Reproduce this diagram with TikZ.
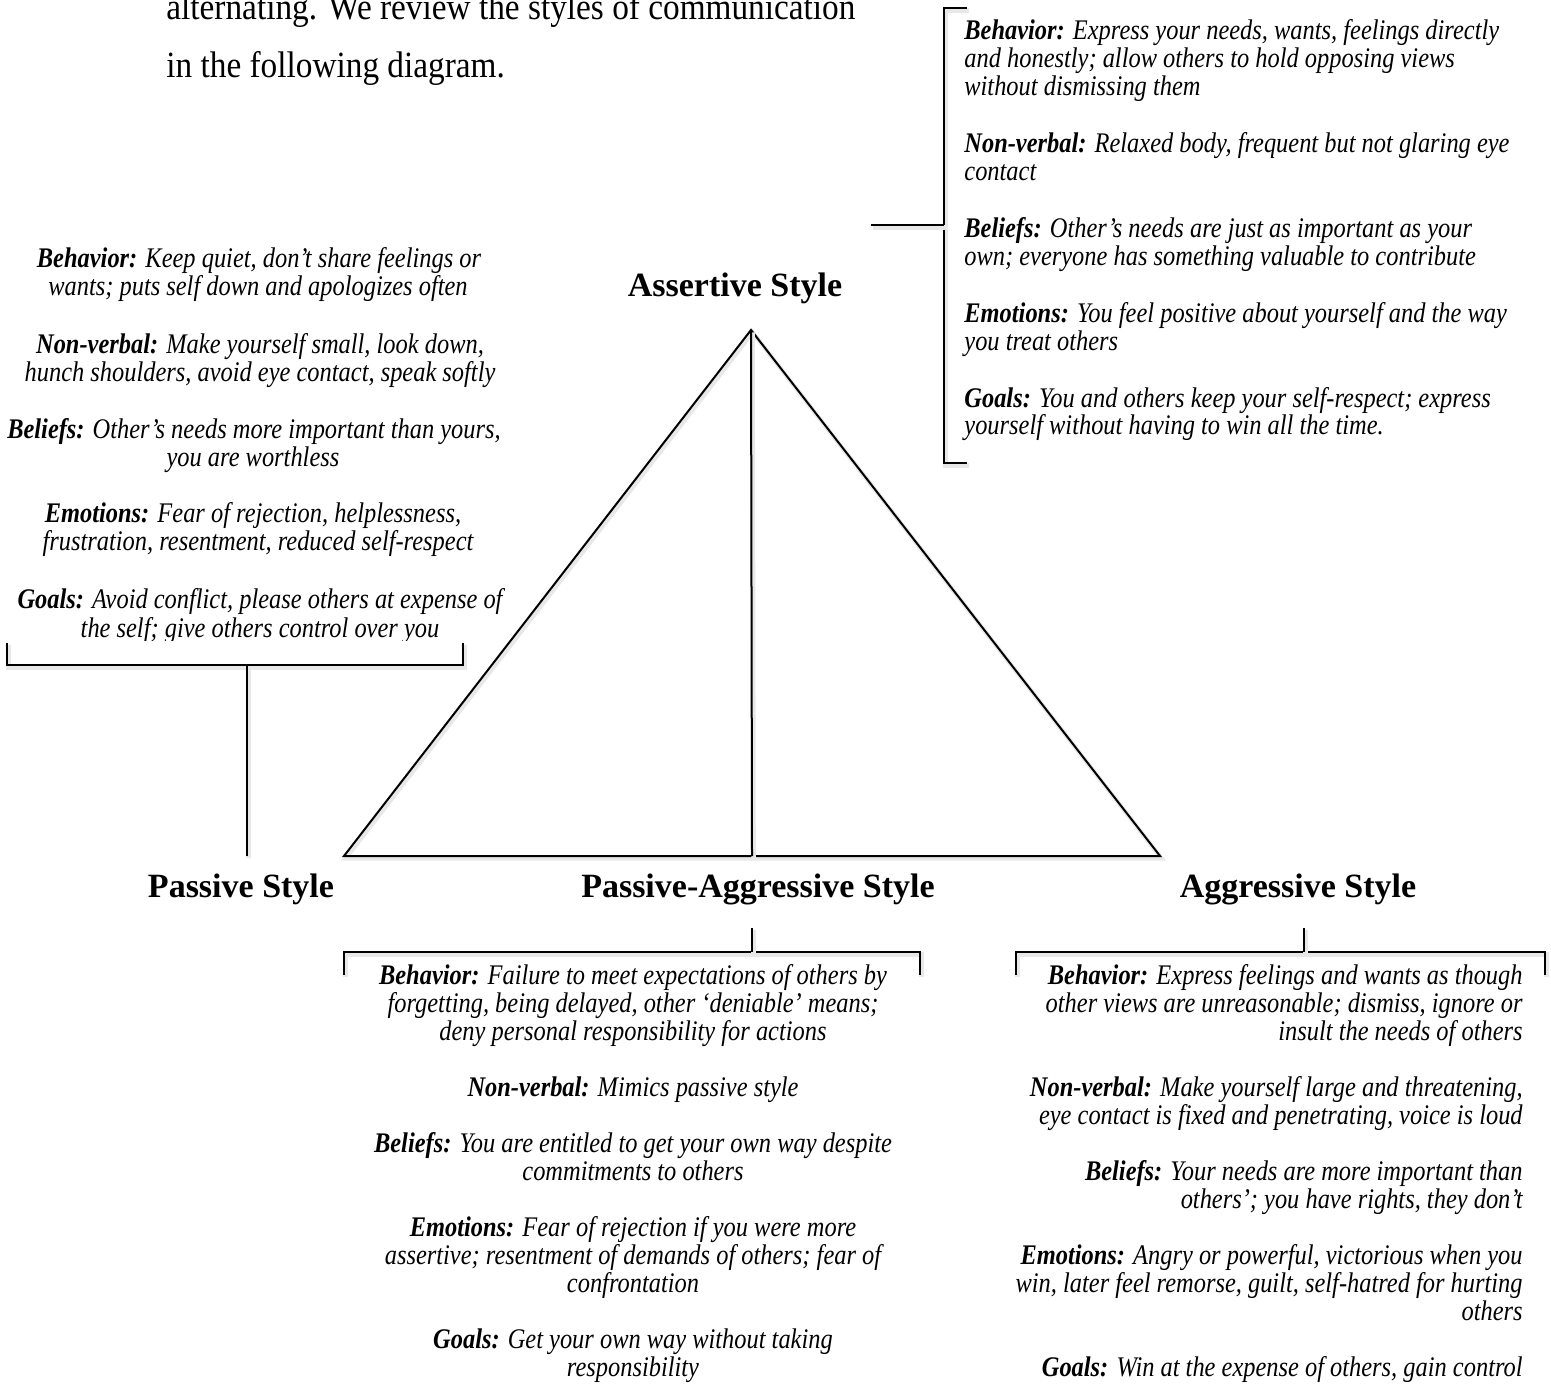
\documentclass[tikz,border=0pt]{standalone}
\usepackage{fontspec}
\setmainfont{Liberation Serif}
\newfontfamily\bodyfont{Liberation Serif}[FakeStretch=0.86]
\newfontfamily\introfont{Liberation Serif}[FakeStretch=0.9]
\newcommand\lab[1]{\textbf{#1}}
\begin{document}
\begin{tikzpicture}[x=0.5pt,y=-0.5pt,
  shadowed/.style={preaction={draw=black!9, line width=2.2pt, transform canvas={shift={(0.8pt,-1.2pt)}}}},
  tri/.style={line width=1pt, line join=miter, shadowed},
  brk/.style={line width=1.4pt, shadowed},
  stem/.style={line width=1.1pt, shadowed},
  head/.style={font=\fontsize{17}{20}\selectfont\bfseries, anchor=base, inner sep=0},
  body/.style={font=\bodyfont\itshape\fontsize{14.2}{16}\selectfont, inner sep=0, anchor=base},
  bodyL/.style={body, anchor=base west},
  bodyR/.style={body, anchor=base east},
  toptext/.style={font=\introfont\fontsize{18.5}{22}\selectfont, inner sep=0, anchor=base west}]
\clip (0,0) rectangle (1551,1384);
\fill[white] (0,0) rectangle (1551,1384);

% introductory text (cut at top)
\node[toptext] (intro1) at (166,20) {alternating. We review the styles of communication};
\node[toptext] (intro2) at (166,78) {in the following diagram.};

% triangle
\coordinate (apex) at (751,330);
\coordinate (bl) at (344,856);
\coordinate (br) at (1160,856);
\coordinate (bm) at (752,856);
\draw[tri] (bl) -- (apex) -- (br) -- cycle;
\draw[tri] (apex) -- (bm);

% headings
\node[head] (hA) at (735,297) {Assertive Style};
\node[head] (hP) at (241,897) {Passive Style};
\node[head] (hPA) at (758,897) {Passive-Aggressive Style};
\node[head] (hAg) at (1298,897) {Aggressive Style};

% passive bracket
\coordinate (pbL) at (7,643);
\coordinate (pbLb) at (7,665);
\coordinate (pbRb) at (463,665);
\coordinate (pbR) at (463,643);
\coordinate (pbM) at (247,665);
\coordinate (pbS) at (247,856);
\draw[brk] (pbL) -- (pbLb) -- (pbRb) -- (pbR);
\draw[stem] (pbM) -- (pbS);

% assertive bracket
\coordinate (abT) at (967,8);
\coordinate (abTL) at (944,8);
\coordinate (abBL) at (944,463);
\coordinate (abB) at (967,463);
\coordinate (abM) at (944,225);
\coordinate (abS) at (871,225);
\draw[brk] (abT) -- (abTL) -- (abBL) -- (abB);
\draw[brk] (abS) -- (abM);

% passive-aggressive bracket
\coordinate (pgL) at (344,975);
\coordinate (pgLt) at (344,952);
\coordinate (pgRt) at (920,952);
\coordinate (pgR) at (920,975);
\coordinate (pgM) at (752,952);
\coordinate (pgS) at (752,928);
\draw[brk] (pgL) -- (pgLt) -- (pgRt) -- (pgR);
\draw[stem] (pgM) -- (pgS);

% aggressive bracket
\coordinate (agL) at (1016,975);
\coordinate (agLt) at (1016,952);
\coordinate (agRt) at (1545,952);
\coordinate (agR) at (1545,975);
\coordinate (agM) at (1304,952);
\coordinate (agS) at (1304,928);
\draw[brk] (agL) -- (agLt) -- (agRt) -- (agR);
\draw[stem] (agM) -- (agS);

% passive text
\foreach \xx/\yy/\txt [count=\i] in {
  259/268/{\lab{Behavior:} Keep quiet, don’t share feelings or},
  258/296/{wants; puts self down and apologizes often},
  260/354/{\lab{Non-verbal:} Make yourself small, look down,},
  260/382/{hunch shoulders, avoid eye contact, speak softly},
  254/439/{\lab{Beliefs:} Other’s needs more important than yours,},
  253/467/{you are worthless},
  253/523/{\lab{Emotions:} Fear of rejection, helplessness,},
  258/551/{frustration, resentment, reduced self-respect},
  260/609/{\lab{Goals:} Avoid conflict, please others at expense of}}
  {\node[body] (pa\i) at (\xx,\yy) {\txt};}
\begin{scope}
\clip (0,0) rectangle (1551,640);
\node[body] (pa10) at (260,637) {the self; give others control over you};
\end{scope}

% assertive text
\foreach \yy/\txt [count=\i] in {
  40/{\lab{Behavior:} Express your needs, wants, feelings directly},
  68/{and honestly; allow others to hold opposing views},
  96/{without dismissing them},
  153/{\lab{Non-verbal:} Relaxed body, frequent but not glaring eye},
  181/{contact},
  238/{\lab{Beliefs:} Other’s needs are just as important as your},
  266/{own; everyone has something valuable to contribute},
  323/{\lab{Emotions:} You feel positive about yourself and the way},
  351/{you treat others},
  408/{\lab{Goals:} You and others keep your self-respect; express},
  435/{yourself without having to win all the time.}}
  {\node[bodyL] (as\i) at (964,\yy) {\txt};}

% passive-aggressive text
\foreach \yy/\txt [count=\i] in {
  984/{\lab{Behavior:} Failure to meet expectations of others by},
  1012/{forgetting, being delayed, other ‘deniable’ means;},
  1040/{deny personal responsibility for actions},
  1096/{\lab{Non-verbal:} Mimics passive style},
  1152/{\lab{Beliefs:} You are entitled to get your own way despite},
  1180/{commitments to others},
  1236/{\lab{Emotions:} Fear of rejection if you were more},
  1264/{assertive; resentment of demands of others; fear of},
  1292/{confrontation},
  1348/{\lab{Goals:} Get your own way without taking},
  1376/{responsibility}}
  {\node[body] (pg\i) at (633,\yy) {\txt};}

% aggressive text
\foreach \yy/\txt [count=\i] in {
  984/{\lab{Behavior:} Express feelings and wants as though},
  1012/{other views are unreasonable; dismiss, ignore or},
  1040/{insult the needs of others},
  1096/{\lab{Non-verbal:} Make yourself large and threatening,},
  1124/{eye contact is fixed and penetrating, voice is loud},
  1180/{\lab{Beliefs:} Your needs are more important than},
  1208/{others’; you have rights, they don’t},
  1264/{\lab{Emotions:} Angry or powerful, victorious when you},
  1292/{win, later feel remorse, guilt, self-hatred for hurting},
  1320/{others},
  1376/{\lab{Goals:} Win at the expense of others, gain control}}
  {\node[bodyR] (ag\i) at (1523,\yy) {\txt};}
\end{tikzpicture}
\end{document}
